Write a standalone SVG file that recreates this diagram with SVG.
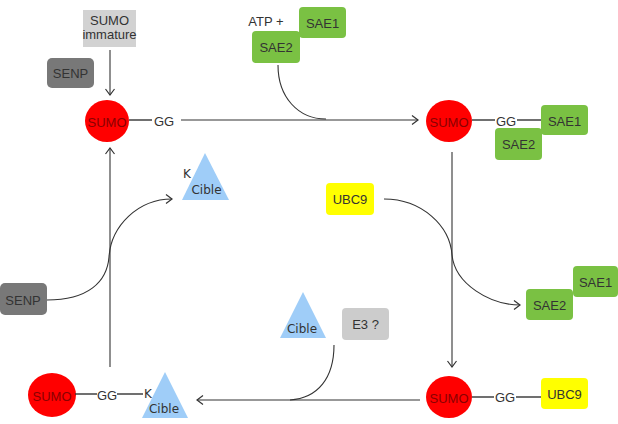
<svg xmlns="http://www.w3.org/2000/svg" width="618" height="424" viewBox="0 0 618 424">
<defs>
<marker id="ah" markerWidth="12" markerHeight="12" refX="9" refY="6" orient="auto" markerUnits="userSpaceOnUse">
<path d="M3,1.5 L9,6 L3,10.5" fill="none" stroke="#333" stroke-width="1.2"/>
</marker>
</defs>
<style>
text{font-family:"Liberation Sans",Arial,sans-serif;fill:#333;font-size:13px;text-anchor:middle;dominant-baseline:central}
.sumo{fill:#ff0000}
.st{fill:#8a0000;font-size:13px}
.green{fill:#7ac143}
.blue{fill:#9fcdf8}
.dv{font-family:"DejaVu Sans",sans-serif;font-size:12px}
.ln{stroke:#333;stroke-width:1.1;fill:none}
.bond{stroke:#333;stroke-width:1.4;fill:none}
</style>
<rect width="618" height="424" fill="#fff"/>
<g id="connectors">
<path class="ln" d="M110,50 L110,95" marker-end="url(#ah)"/>
<path class="ln" stroke="#555" d="M181,120 L418,120" marker-end="url(#ah)"/>
<path class="ln" d="M278,65 C278,97 298,119 326,119"/>
<path class="ln" d="M452,152 L452,367" marker-end="url(#ah)"/>
<path class="ln" d="M384,199 C422,199 450,226 452,255 C455,284 490,305 520,305" marker-end="url(#ah)"/>
<path class="ln" d="M420,400 L197,400" marker-end="url(#ah)"/>
<path class="ln" d="M334,345 C334,378 318,398 290,400"/>
<path class="ln" d="M110,367 L110,148" marker-end="url(#ah)"/>
<path class="ln" d="M47,300 C88,300 107,282 109,257 C111,226 138,199 172,199" marker-end="url(#ah)"/>
</g>
<g id="sumo-immature">
<rect x="83" y="10" width="53" height="37" fill="#d2d2d2"/>
<text x="109.5" y="20.5" font-size="10.5">SUMO</text>
<text x="109.5" y="34.5" font-size="10.5">immature</text>
</g>
<g id="senp-top">
<rect x="47" y="58" width="47" height="30" rx="5" fill="#787878"/>
<text x="70.5" y="73">SENP</text>
</g>
<g id="sumo-1">
<ellipse class="sumo" cx="107" cy="121" rx="22" ry="21"/>
<text class="st" x="107" y="122">SUMO</text>
<path class="bond" d="M129,120 L152,120"/>
<text x="164" y="121">GG</text>
</g>
<g id="atp-sae">
<text x="266" y="21">ATP +</text>
<rect class="green" x="299" y="7" width="47" height="31" rx="4"/>
<text x="322.5" y="23">SAE1</text>
<rect class="green" x="252" y="31" width="48" height="32" rx="4"/>
<text x="276" y="47">SAE2</text>
</g>
<g id="sumo-2">
<ellipse class="sumo" cx="449" cy="121" rx="23" ry="21"/>
<text class="st" x="449" y="122">SUMO</text>
<path class="bond" d="M472,120 L495,120"/>
<text x="506" y="121">GG</text>
<path class="bond" d="M517,120 L541,120"/>
<rect class="green" x="541" y="105" width="47" height="30" rx="4"/>
<text x="564.5" y="121">SAE1</text>
<rect class="green" x="495" y="128" width="47" height="32" rx="4"/>
<text x="518.5" y="144">SAE2</text>
</g>
<g id="cible-top">
<polygon class="blue" points="205,153 182,200 229,200"/>
<text class="dv" x="187" y="174">K</text>
<text class="dv" x="206.5" y="190">Cible</text>
</g>
<g id="senp-left">
<rect x="0" y="283" width="47" height="32" rx="5" fill="#787878"/>
<text x="23" y="300">SENP</text>
</g>
<g id="ubc9-top">
<rect x="326" y="183" width="48" height="32" rx="4" fill="#ffff00"/>
<text x="350" y="199">UBC9</text>
</g>
<g id="sae-released">
<rect class="green" x="573" y="266" width="45" height="31" rx="4"/>
<text x="595.5" y="282">SAE1</text>
<rect class="green" x="526" y="289" width="47" height="31" rx="4"/>
<text x="549.5" y="305">SAE2</text>
</g>
<g id="cible-mid">
<polygon class="blue" points="303,292 280,338 326,338"/>
<text class="dv" x="302" y="329">Cible</text>
</g>
<g id="e3">
<rect x="342" y="308" width="47" height="32" rx="4" fill="#cccccc"/>
<text x="365.5" y="324">E3 ?</text>
</g>
<g id="sumo-3">
<ellipse class="sumo" cx="449" cy="397" rx="23" ry="21"/>
<text class="st" x="449" y="398">SUMO</text>
<path class="bond" d="M472,397 L494,397"/>
<text x="505" y="397">GG</text>
<path class="bond" d="M516,397 L541,397"/>
<rect x="541" y="378" width="47" height="31" rx="4" fill="#ffff00"/>
<text x="564.5" y="394">UBC9</text>
</g>
<g id="sumo-4">
<ellipse class="sumo" cx="52" cy="395" rx="24" ry="22"/>
<text class="st" x="52" y="396">SUMO</text>
<path class="bond" d="M75,394 L97,394"/>
<text x="107" y="395">GG</text>
<path class="bond" d="M117,394 L143,394"/>
<text class="dv" x="148" y="394">K</text>
<polygon class="blue" points="165,372 142,418 188,418"/>
<text class="dv" x="164" y="409">Cible</text>
</g>
</svg>
